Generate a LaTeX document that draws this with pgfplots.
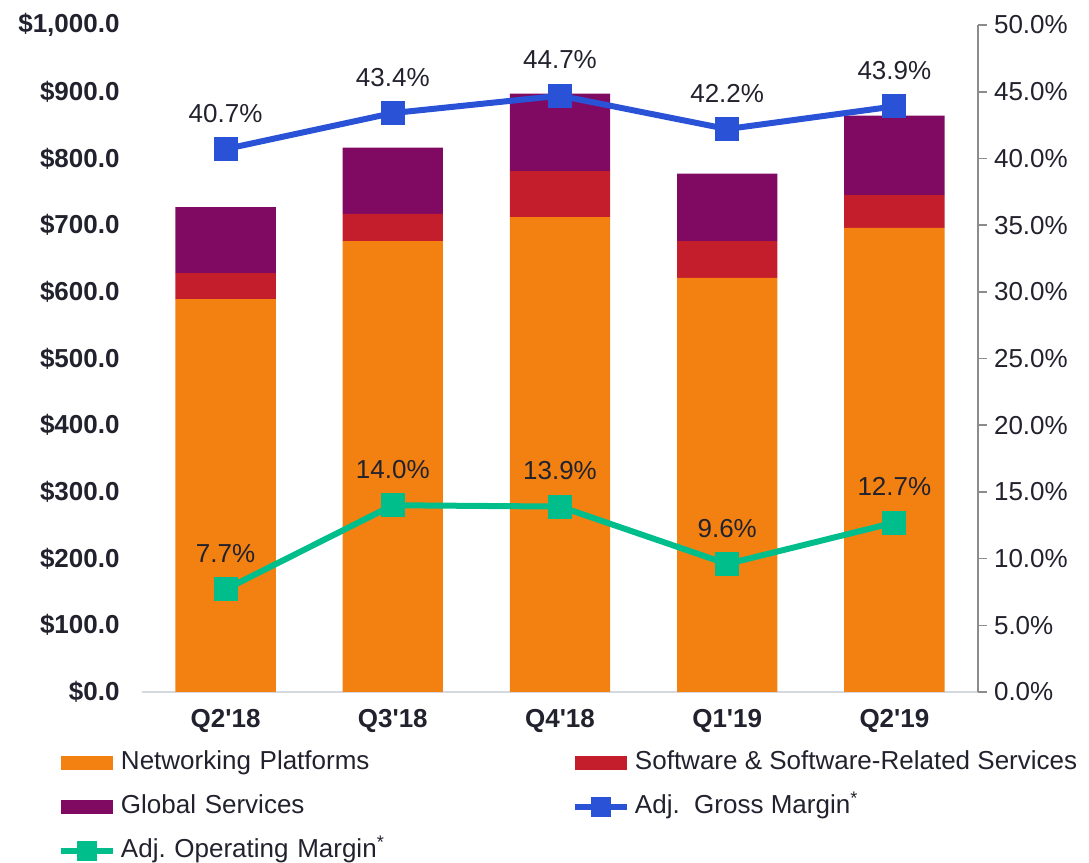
\documentclass[border=0pt]{standalone}
\usepackage{pgfplots}
\pgfplotsset{compat=1.18}
\usepackage{fontspec}
\setmainfont{Liberation Sans}[Ligatures=TeXOff]
\definecolor{np}{HTML}{F28111}
\definecolor{sw}{HTML}{C41E2C}
\definecolor{gs}{HTML}{800A62}
\definecolor{gm}{HTML}{2A52D6}
\definecolor{om}{HTML}{00BE8C}
\definecolor{txt}{HTML}{22222E}
\definecolor{axl}{HTML}{D5D8DE}
\definecolor{rax}{HTML}{8C8C8C}
\newcommand\fs{\fontsize{13}{15.6}\selectfont}

\pgfplotsset{
  mylinelegend/.style={legend image code/.code={
    \draw[mark repeat=2,mark phase=2,mark size=3.5pt,#1] plot coordinates {(0pt,0pt) (13pt,0pt) (26pt,0pt)};}},
  mybarlegend/.style={legend image code/.code={
    \fill[#1] (0pt,-3.7pt) rectangle (26pt,3.7pt);}},
}

\pgfplotstableread{
x  np   sw  gs
0  589  39  99
1  676  41  99
2  712  69  116
3  621  55  101
4  696  49  119
}\revenue

\begin{document}
\begin{tikzpicture}
\useasboundingbox (-71pt,-85.5pt) rectangle (473.5pt,346pt);
% revenue bars, left axis
\begin{axis}[
  scale only axis, width=418pt, height=333.5pt,
  font=\fs, /pgf/number format/assume math mode=true,
  ybar stacked, bar width=0.6,
  xmin=-0.5, xmax=4.5, ymin=0, ymax=1000,
  xtick={0,...,4},
  xticklabels={Q2'18,Q3'18,Q4'18,Q1'19,Q2'19},
  xticklabel style={font=\fs\bfseries, text=txt, yshift=-5pt},
  ytick={0,100,...,1000},
  yticklabel={\$\pgfmathprintnumber[fixed,fixed zerofill,precision=1,1000 sep={,}]{\tick}},
  yticklabel style={font=\fs\bfseries, text=txt, xshift=-7.7pt},
  axis x line*=bottom, axis y line*=left,
  x axis line style={draw=axl, line width=1.2pt, -},
  y axis line style={draw=none},
  major tick style={draw=none},
]
\addplot[fill=np, draw=none] table[x=x, y=np] {\revenue};
\addplot[fill=sw, draw=none] table[x=x, y=sw] {\revenue};
\addplot[fill=gs, draw=none] table[x=x, y=gs] {\revenue};
\end{axis}
% margins, right axis
\begin{axis}[
  scale only axis, width=418pt, height=333.5pt,
  font=\fs, /pgf/number format/assume math mode=true,
  xmin=-0.5, xmax=4.5, ymin=0, ymax=50,
  axis x line=none, axis y line*=right,
  ytick={0,5,...,50},
  yticklabel={\pgfmathprintnumber[fixed,fixed zerofill,precision=1]{\tick}\%},
  yticklabel style={text=txt},
  y axis line style={draw=rax, line width=0.8pt, -},
  ytick style={draw=rax, line width=0.8pt},
  tick align=outside, major tick length=4.5pt,
  legend columns=2, legend cell align=left,
  legend style={at={(-0.1005,-0.0877)}, anchor=north west, draw=none, fill=none,
    inner sep=0pt, outer sep=0pt, column sep=0pt, row sep=9.5pt,
    nodes={inner xsep=2.5pt, inner ysep=0pt, text height=9.5pt, text depth=3pt, text=txt},
    /tikz/column 2/.style={text width=223pt}},
]
\addlegendimage{fill=np, draw=none, mybarlegend}
\addlegendimage{fill=sw, draw=none, mybarlegend}
\addlegendimage{fill=gs, draw=none, mybarlegend}
\addplot[gm, line width=3pt, mark=square*, mark size=4.5pt, point meta=y, mylinelegend,
  nodes near coords={\pgfmathprintnumber[fixed,fixed zerofill,precision=1]{\pgfplotspointmeta}\%},
  every node near coord/.append style={text=txt, font=\fs, yshift=8.5pt}]
  coordinates {(0,40.7) (1,43.4) (2,44.7) (3,42.2) (4,43.9)};
\addplot[om, line width=3pt, mark=square*, mark size=4.5pt, point meta=y, mylinelegend,
  nodes near coords={\pgfmathprintnumber[fixed,fixed zerofill,precision=1]{\pgfplotspointmeta}\%},
  every node near coord/.append style={text=txt, font=\fs, yshift=8.5pt}]
  coordinates {(0,7.7) (1,14.0) (2,13.9) (3,9.6) (4,12.7)};
\legend{Networking Platforms, Software \& Software-Related Services, Global Services,
  Adj.\ \ Gross Margin\textsuperscript{*}, Adj.\ Operating Margin\textsuperscript{*}}
\end{axis}
\end{tikzpicture}
\end{document}
